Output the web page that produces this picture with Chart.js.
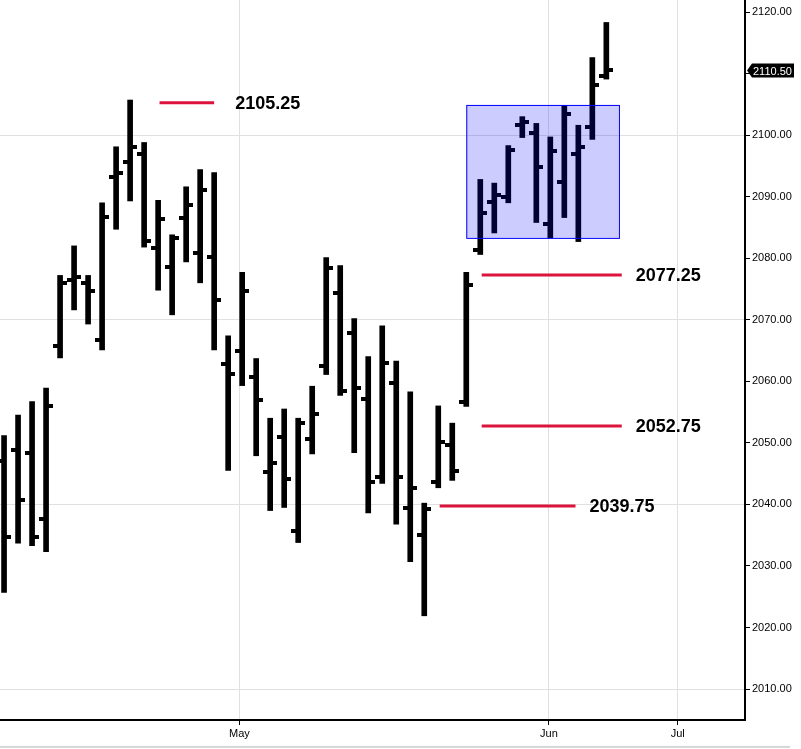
<!DOCTYPE html>
<html><head><meta charset="utf-8">
<script src="https://cdn.jsdelivr.net/npm/chart.js@4"></script>
<style>html,body{margin:0;padding:0;background:#fff;overflow:hidden}#wrap{width:801px;height:749px;position:relative}</style>
</head><body><div id="wrap"><canvas id="c"></canvas></div>
<script>
const openP  = [2047.0,2048.9,2048.3,2037.6,2065.7,2076.5,2076.0,2066.7,2093.2,2095.6,2097.0,2081.6,2078.5,2086.6,2080.8,2080.2,2062.8,2064.9,2060.7,2045.2,2050.9,2035.6,2050.6,2062.5,2074.4,2067.9,2057.1,2044.4,2059.7,2039.4,2035.0,2043.6,2049.7,2056.6,2081.3,2089.2,2089.9,2101.7,2100.3,2085.5,2092.3,2097.0,2101.3,2109.6];
const highP  = [2051.2,2054.5,2056.7,2058.9,2077.2,2082.0,2077.2,2089.0,2098.1,2105.7,2098.8,2089.4,2083.8,2091.6,2094.4,2093.9,2067.4,2077.7,2063.7,2054.0,2055.5,2054.0,2059.2,2080.1,2078.8,2070.2,2064.0,2069.0,2063.3,2058.3,2040.2,2056.0,2053.2,2077.7,2092.8,2092.2,2098.3,2103.0,2101.9,2099.7,2104.8,2101.6,2112.6,2118.3];
const lowP   = [2025.7,2033.7,2033.3,2032.3,2063.8,2071.6,2069.3,2065.1,2084.7,2089.3,2081.8,2074.8,2070.8,2079.4,2076.0,2065.1,2045.5,2059.3,2047.9,2039.0,2039.5,2033.8,2048.2,2061.1,2057.7,2048.4,2038.6,2043.4,2036.8,2030.7,2021.9,2042.7,2043.9,2055.9,2080.6,2084.1,2089.0,2099.6,2085.8,2083.3,2086.6,2082.7,2099.3,2109.1];
const closeP = [2034.7,2040.7,2034.7,2056.0,2075.9,2077.0,2074.7,2086.7,2093.8,2098.0,2082.8,2086.3,2083.3,2088.7,2091.0,2073.2,2061.2,2074.6,2056.9,2046.8,2044.1,2053.2,2054.7,2078.4,2058.4,2058.9,2043.6,2062.9,2044.4,2042.6,2039.2,2050.1,2045.4,2075.7,2087.3,2090.2,2097.5,2102.1,2094.8,2097.4,2103.5,2098.0,2108.1,2110.5];
const monthLabels = ['May','Jun','Jul'];
const monthPos = [16.8,38.9,48.1];
const yTicks = [2010,2020,2030,2040,2050,2060,2070,2080,2090,2100,2110,2120];
const levelValues = [2105.25,2077.25,2052.75,2039.75];
const levelLabels = ['2105.25','2077.25','2052.75','2039.75'];
const levelFrom = [11.1,34.1,34.1,31.1];
const levelTo = [15.0,44.1,44.1,40.8];
const labelAt = [16.5,45.1,45.1,41.8];
const boxX = [33.0,43.9];
const boxY = [2083.3,2104.9];
const lastPrice = 2110.50;

const idx = openP.map((_,i)=>i);
const ohlcPlugin = {
  id:'ohlc',
  beforeDatasetsDraw(chart){
    const x=chart.scales.x,y=chart.scales.y,ctx=chart.ctx,a=chart.chartArea;
    ctx.save();
    ctx.beginPath();ctx.rect(a.left,a.top,a.right-a.left,a.bottom-a.top);ctx.clip();
    ctx.strokeStyle='#dc143c';ctx.lineWidth=3;
    ctx.font='bold 18px "Liberation Sans", Arial, sans-serif';ctx.fillStyle='#000';ctx.textBaseline='middle';
    levelValues.forEach((v,i)=>{
      const yy=y.getPixelForValue(v);
      ctx.beginPath();ctx.moveTo(x.getPixelForValue(levelFrom[i]),yy);ctx.lineTo(x.getPixelForValue(levelTo[i]),yy);ctx.stroke();
      ctx.fillText(levelLabels[i],x.getPixelForValue(labelAt[i]),yy+1);
    });
    ctx.restore();
  },
  afterDatasetsDraw(chart){
    const x=chart.scales.x,y=chart.scales.y,ctx=chart.ctx;
    ctx.save();
    ctx.fillStyle='#000';
    idx.forEach(i=>{
      const cx=x.getPixelForValue(i);
      const oy=y.getPixelForValue(openP[i]),cy=y.getPixelForValue(closeP[i]);
      ctx.fillRect(Math.round(cx-7),Math.round(oy-2),5,4);
      ctx.fillRect(Math.round(cx+2),Math.round(cy-2),5,4);
    });
    const bx1=x.getPixelForValue(boxX[0]),bx2=x.getPixelForValue(boxX[1]);
    const by1=y.getPixelForValue(boxY[1]),by2=y.getPixelForValue(boxY[0]);
    ctx.fillStyle='rgba(0,0,255,0.2)';ctx.fillRect(bx1,by1,bx2-bx1,by2-by1);
    ctx.strokeStyle='#0000ff';ctx.lineWidth=1;ctx.strokeRect(bx1+0.5,by1+0.5,bx2-bx1,by2-by1);
    const ly=y.getPixelForValue(lastPrice),ax=chart.chartArea.right;
    ctx.fillStyle='#000';
    ctx.beginPath();ctx.moveTo(ax+2,ly);ctx.lineTo(ax+7,ly-7);ctx.lineTo(ax+49,ly-7);ctx.lineTo(ax+49,ly+7);ctx.lineTo(ax+7,ly+7);ctx.closePath();ctx.fill();
    ctx.fillStyle='#fff';ctx.font='11px "Liberation Sans", Arial, sans-serif';ctx.textBaseline='middle';
    ctx.fillText(lastPrice.toFixed(2),ax+8,ly+1);
    ctx.fillStyle='#d8d8d8';ctx.fillRect(0,746,790,2);
    ctx.restore();
  }
};

new Chart(document.getElementById('c'),{
  type:'bar',
  data:{datasets:[{
    data:idx.map(i=>({x:i,y:[lowP[i],highP[i]]})),
    backgroundColor:'#000',borderWidth:0,barThickness:5,
    grouped:false
  }]},
  options:{
    responsive:true,maintainAspectRatio:false,animation:false,
    layout:{padding:0},
    plugins:{legend:{display:false},tooltip:{enabled:false}},
    scales:{
      x:{type:'linear',min:-0.29,max:52.9,offset:false,
        afterFit(s){s.height=29;s.paddingLeft=0;s.paddingRight=0;},
        afterBuildTicks(s){s.ticks=monthPos.map(v=>({value:v}));},
        ticks:{autoSkip:false,maxRotation:0,color:'#000',font:{family:'"Liberation Sans", Arial',size:11},padding:2,
          callback:(v)=>monthLabels[monthPos.indexOf(v)]},
        grid:{offset:false,color:'#e0e0e0',tickColor:'#000',tickLength:5,drawOnChartArea:true},
        border:{color:'#000',width:2}
      },
      y:{position:'right',min:2004.97,max:2121.95,
        afterFit(s){s.width=56;s.paddingTop=0;s.paddingBottom=0;},
        afterBuildTicks(s){s.ticks=yTicks.map(v=>({value:v}));},
        ticks:{color:'#000',font:{family:'"Liberation Sans", Arial',size:11},padding:2,callback:v=>v.toFixed(2)},
        grid:{color:(c)=>([2010,2040,2070,2100].includes(c.tick&&c.tick.value)?'#e0e0e0':'rgba(0,0,0,0)'),tickColor:'#000',tickLength:5},
        border:{color:'#000',width:2}
      }
    }
  },
  plugins:[ohlcPlugin]
});
</script></body></html>
